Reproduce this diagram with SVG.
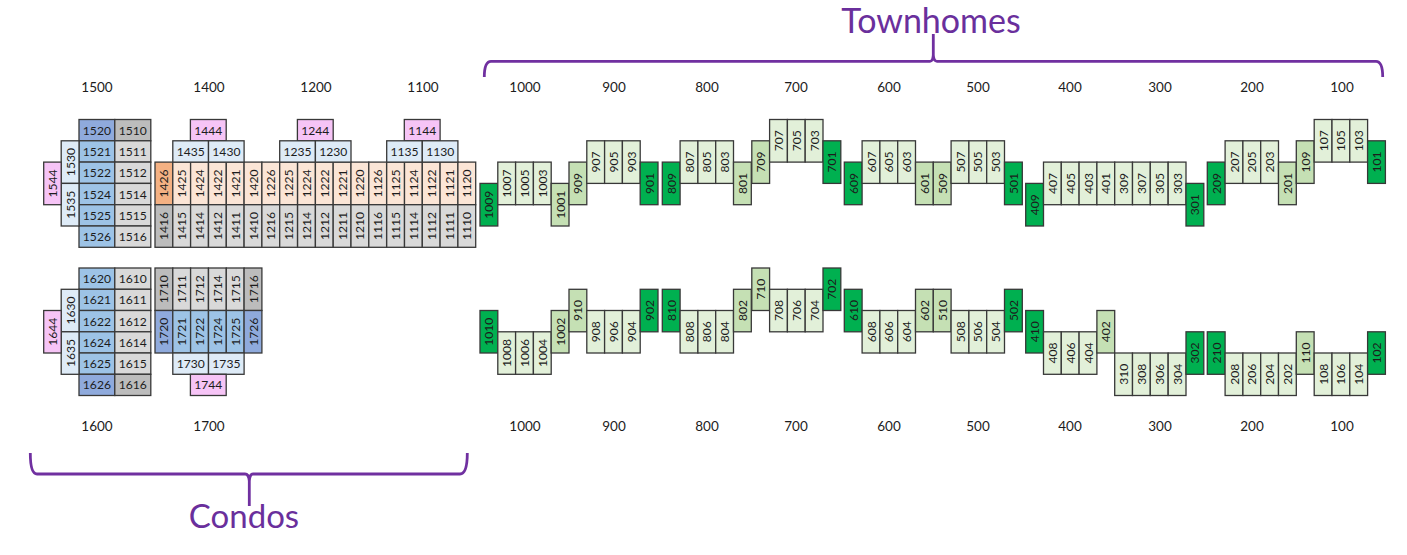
<svg xmlns="http://www.w3.org/2000/svg" width="1407" height="555" viewBox="0 0 1407 555">
<style>
text{font-family:"Lato","Liberation Sans",sans-serif;fill:#1c1c1c;text-anchor:middle;dominant-baseline:central}
.c{font-size:12.1px}
.hd{font-size:13.5px}
.title{font-size:33px;fill:#6a2f9c}
.big{font-size:34px}
rect{stroke:#383838;stroke-width:1.3}
.d{fill:#00b050}.m{fill:#c5e0b4}.l{fill:#e2f0d9}
.b{fill:#9dc3e6}.bd{fill:#8faadc}.bl{fill:#deebf7}
.g{fill:#d9d9d9}.gd{fill:#bcbcbc}
.o{fill:#fbe5d6}.od{fill:#f4b183}.p{fill:#f6c4f6}
.brace{fill:none;stroke:#7030a0;stroke-width:2.8}
</style>
<g id="labels">
<text class="title big" x="931" y="19.5">Townhomes</text>
<text class="title" x="244" y="515">Condos</text>
<text class="hd" x="97" y="87">1500</text><text class="hd" x="209" y="87">1400</text><text class="hd" x="316" y="87">1200</text><text class="hd" x="423" y="87">1100</text><text class="hd" x="525" y="87">1000</text><text class="hd" x="614" y="87">900</text><text class="hd" x="707" y="87">800</text><text class="hd" x="796" y="87">700</text><text class="hd" x="889" y="87">600</text><text class="hd" x="978" y="87">500</text><text class="hd" x="1070" y="87">400</text><text class="hd" x="1160" y="87">300</text><text class="hd" x="1252" y="87">200</text><text class="hd" x="1342" y="87">100</text>
<text class="hd" x="97" y="426">1600</text><text class="hd" x="209" y="426">1700</text><text class="hd" x="525" y="426">1000</text><text class="hd" x="614" y="426">900</text><text class="hd" x="707" y="426">800</text><text class="hd" x="796" y="426">700</text><text class="hd" x="889" y="426">600</text><text class="hd" x="978" y="426">500</text><text class="hd" x="1070" y="426">400</text><text class="hd" x="1160" y="426">300</text><text class="hd" x="1252" y="426">200</text><text class="hd" x="1342" y="426">100</text>
</g>
<g id="connectors">
<path class="brace" d="M484.3 77Q484.3 61.3 491 61.3H930Q932.8 61.3 933.3 55V34V55Q933.8 61.3 937 61.3H1376Q1382.7 61.3 1382.7 77"/>
<path class="brace" d="M30.3 453Q30.3 474 37 474H245Q248.8 474 249.3 481V506V481Q249.8 474 253 474H460Q467.3 474 467.3 453"/>
</g>
<g id="u1520" transform="translate(79 119.5)"><rect class="bd" width="35.8" height="21.3"/><text class="c" x="17.9" y="10.65">1520</text></g>
<g id="u1510" transform="translate(114.8 119.5)"><rect class="gd" width="36" height="21.3"/><text class="c" x="18" y="10.65">1510</text></g>
<g id="u1521" transform="translate(79 140.8)"><rect class="b" width="35.8" height="21.3"/><text class="c" x="17.9" y="10.65">1521</text></g>
<g id="u1511" transform="translate(114.8 140.8)"><rect class="g" width="36" height="21.3"/><text class="c" x="18" y="10.65">1511</text></g>
<g id="u1522" transform="translate(79 162.1)"><rect class="b" width="35.8" height="21.3"/><text class="c" x="17.9" y="10.65">1522</text></g>
<g id="u1512" transform="translate(114.8 162.1)"><rect class="g" width="36" height="21.3"/><text class="c" x="18" y="10.65">1512</text></g>
<g id="u1524" transform="translate(79 183.4)"><rect class="b" width="35.8" height="21.3"/><text class="c" x="17.9" y="10.65">1524</text></g>
<g id="u1514" transform="translate(114.8 183.4)"><rect class="g" width="36" height="21.3"/><text class="c" x="18" y="10.65">1514</text></g>
<g id="u1525" transform="translate(79 204.7)"><rect class="b" width="35.8" height="21.3"/><text class="c" x="17.9" y="10.65">1525</text></g>
<g id="u1515" transform="translate(114.8 204.7)"><rect class="g" width="36" height="21.3"/><text class="c" x="18" y="10.65">1515</text></g>
<g id="u1526" transform="translate(79 226)"><rect class="b" width="35.8" height="21.3"/><text class="c" x="17.9" y="10.65">1526</text></g>
<g id="u1516" transform="translate(114.8 226)"><rect class="g" width="36" height="21.3"/><text class="c" x="18" y="10.65">1516</text></g>
<g id="u1530" transform="translate(61.2 140.8)"><rect class="bl" width="17.8" height="42.6"/><text class="c" transform="translate(8.9 21.3) rotate(-90)">1530</text></g>
<g id="u1535" transform="translate(61.2 183.4)"><rect class="bl" width="17.8" height="42.6"/><text class="c" transform="translate(8.9 21.3) rotate(-90)">1535</text></g>
<g id="u1544" transform="translate(43.7 162.1)"><rect class="p" width="17.5" height="42.6"/><text class="c" transform="translate(8.9 21.3) rotate(-90)">1544</text></g>
<g id="u1426" transform="translate(155 162.1)"><rect class="od" width="17.8" height="42.6"/><text class="c" transform="translate(8.9 21.3) rotate(-90)">1426</text></g>
<g id="u1425" transform="translate(172.8 162.1)"><rect class="o" width="17.8" height="42.6"/><text class="c" transform="translate(8.9 21.3) rotate(-90)">1425</text></g>
<g id="u1424" transform="translate(190.6 162.1)"><rect class="o" width="17.8" height="42.6"/><text class="c" transform="translate(8.9 21.3) rotate(-90)">1424</text></g>
<g id="u1422" transform="translate(208.5 162.1)"><rect class="o" width="17.8" height="42.6"/><text class="c" transform="translate(8.9 21.3) rotate(-90)">1422</text></g>
<g id="u1421" transform="translate(226.3 162.1)"><rect class="o" width="17.8" height="42.6"/><text class="c" transform="translate(8.9 21.3) rotate(-90)">1421</text></g>
<g id="u1420" transform="translate(244.1 162.1)"><rect class="o" width="17.8" height="42.6"/><text class="c" transform="translate(8.9 21.3) rotate(-90)">1420</text></g>
<g id="u1226" transform="translate(261.9 162.1)"><rect class="o" width="17.8" height="42.6"/><text class="c" transform="translate(8.9 21.3) rotate(-90)">1226</text></g>
<g id="u1225" transform="translate(279.7 162.1)"><rect class="o" width="17.8" height="42.6"/><text class="c" transform="translate(8.9 21.3) rotate(-90)">1225</text></g>
<g id="u1224" transform="translate(297.6 162.1)"><rect class="o" width="17.8" height="42.6"/><text class="c" transform="translate(8.9 21.3) rotate(-90)">1224</text></g>
<g id="u1222" transform="translate(315.4 162.1)"><rect class="o" width="17.8" height="42.6"/><text class="c" transform="translate(8.9 21.3) rotate(-90)">1222</text></g>
<g id="u1221" transform="translate(333.2 162.1)"><rect class="o" width="17.8" height="42.6"/><text class="c" transform="translate(8.9 21.3) rotate(-90)">1221</text></g>
<g id="u1220" transform="translate(351 162.1)"><rect class="o" width="17.8" height="42.6"/><text class="c" transform="translate(8.9 21.3) rotate(-90)">1220</text></g>
<g id="u1126" transform="translate(368.8 162.1)"><rect class="o" width="17.8" height="42.6"/><text class="c" transform="translate(8.9 21.3) rotate(-90)">1126</text></g>
<g id="u1125" transform="translate(386.7 162.1)"><rect class="o" width="17.8" height="42.6"/><text class="c" transform="translate(8.9 21.3) rotate(-90)">1125</text></g>
<g id="u1124" transform="translate(404.5 162.1)"><rect class="o" width="17.8" height="42.6"/><text class="c" transform="translate(8.9 21.3) rotate(-90)">1124</text></g>
<g id="u1122" transform="translate(422.3 162.1)"><rect class="o" width="17.8" height="42.6"/><text class="c" transform="translate(8.9 21.3) rotate(-90)">1122</text></g>
<g id="u1121" transform="translate(440.1 162.1)"><rect class="o" width="17.8" height="42.6"/><text class="c" transform="translate(8.9 21.3) rotate(-90)">1121</text></g>
<g id="u1120" transform="translate(457.9 162.1)"><rect class="o" width="17.8" height="42.6"/><text class="c" transform="translate(8.9 21.3) rotate(-90)">1120</text></g>
<g id="u1416" transform="translate(155 204.7)"><rect class="gd" width="17.8" height="42.6"/><text class="c" transform="translate(8.9 21.3) rotate(-90)">1416</text></g>
<g id="u1415" transform="translate(172.8 204.7)"><rect class="g" width="17.8" height="42.6"/><text class="c" transform="translate(8.9 21.3) rotate(-90)">1415</text></g>
<g id="u1414" transform="translate(190.6 204.7)"><rect class="g" width="17.8" height="42.6"/><text class="c" transform="translate(8.9 21.3) rotate(-90)">1414</text></g>
<g id="u1412" transform="translate(208.5 204.7)"><rect class="g" width="17.8" height="42.6"/><text class="c" transform="translate(8.9 21.3) rotate(-90)">1412</text></g>
<g id="u1411" transform="translate(226.3 204.7)"><rect class="g" width="17.8" height="42.6"/><text class="c" transform="translate(8.9 21.3) rotate(-90)">1411</text></g>
<g id="u1410" transform="translate(244.1 204.7)"><rect class="g" width="17.8" height="42.6"/><text class="c" transform="translate(8.9 21.3) rotate(-90)">1410</text></g>
<g id="u1216" transform="translate(261.9 204.7)"><rect class="g" width="17.8" height="42.6"/><text class="c" transform="translate(8.9 21.3) rotate(-90)">1216</text></g>
<g id="u1215" transform="translate(279.7 204.7)"><rect class="g" width="17.8" height="42.6"/><text class="c" transform="translate(8.9 21.3) rotate(-90)">1215</text></g>
<g id="u1214" transform="translate(297.6 204.7)"><rect class="g" width="17.8" height="42.6"/><text class="c" transform="translate(8.9 21.3) rotate(-90)">1214</text></g>
<g id="u1212" transform="translate(315.4 204.7)"><rect class="g" width="17.8" height="42.6"/><text class="c" transform="translate(8.9 21.3) rotate(-90)">1212</text></g>
<g id="u1211" transform="translate(333.2 204.7)"><rect class="g" width="17.8" height="42.6"/><text class="c" transform="translate(8.9 21.3) rotate(-90)">1211</text></g>
<g id="u1210" transform="translate(351 204.7)"><rect class="g" width="17.8" height="42.6"/><text class="c" transform="translate(8.9 21.3) rotate(-90)">1210</text></g>
<g id="u1116" transform="translate(368.8 204.7)"><rect class="g" width="17.8" height="42.6"/><text class="c" transform="translate(8.9 21.3) rotate(-90)">1116</text></g>
<g id="u1115" transform="translate(386.7 204.7)"><rect class="g" width="17.8" height="42.6"/><text class="c" transform="translate(8.9 21.3) rotate(-90)">1115</text></g>
<g id="u1114" transform="translate(404.5 204.7)"><rect class="g" width="17.8" height="42.6"/><text class="c" transform="translate(8.9 21.3) rotate(-90)">1114</text></g>
<g id="u1112" transform="translate(422.3 204.7)"><rect class="g" width="17.8" height="42.6"/><text class="c" transform="translate(8.9 21.3) rotate(-90)">1112</text></g>
<g id="u1111" transform="translate(440.1 204.7)"><rect class="g" width="17.8" height="42.6"/><text class="c" transform="translate(8.9 21.3) rotate(-90)">1111</text></g>
<g id="u1110" transform="translate(457.9 204.7)"><rect class="g" width="17.8" height="42.6"/><text class="c" transform="translate(8.9 21.3) rotate(-90)">1110</text></g>
<g id="u1444" transform="translate(190.4 119.5)"><rect class="p" width="35.8" height="21.3"/><text class="c" x="17.9" y="10.65">1444</text></g>
<g id="u1435" transform="translate(172.8 140.8)"><rect class="bl" width="35.7" height="21.3"/><text class="c" x="17.9" y="10.65">1435</text></g>
<g id="u1430" transform="translate(208.5 140.8)"><rect class="bl" width="35.6" height="21.3"/><text class="c" x="17.9" y="10.65">1430</text></g>
<g id="u1244" transform="translate(297.4 119.5)"><rect class="p" width="35.8" height="21.3"/><text class="c" x="17.9" y="10.65">1244</text></g>
<g id="u1235" transform="translate(279.7 140.8)"><rect class="bl" width="35.7" height="21.3"/><text class="c" x="17.9" y="10.65">1235</text></g>
<g id="u1230" transform="translate(315.4 140.8)"><rect class="bl" width="35.6" height="21.3"/><text class="c" x="17.9" y="10.65">1230</text></g>
<g id="u1144" transform="translate(404.3 119.5)"><rect class="p" width="35.8" height="21.3"/><text class="c" x="17.9" y="10.65">1144</text></g>
<g id="u1135" transform="translate(386.7 140.8)"><rect class="bl" width="35.6" height="21.3"/><text class="c" x="17.9" y="10.65">1135</text></g>
<g id="u1130" transform="translate(422.3 140.8)"><rect class="bl" width="35.6" height="21.3"/><text class="c" x="17.9" y="10.65">1130</text></g>
<g id="u1620" transform="translate(79 268)"><rect class="b" width="35.8" height="21.3"/><text class="c" x="17.9" y="10.65">1620</text></g>
<g id="u1610" transform="translate(114.8 268)"><rect class="g" width="36" height="21.3"/><text class="c" x="18" y="10.65">1610</text></g>
<g id="u1621" transform="translate(79 289.3)"><rect class="b" width="35.8" height="21.2"/><text class="c" x="17.9" y="10.65">1621</text></g>
<g id="u1611" transform="translate(114.8 289.3)"><rect class="g" width="36" height="21.2"/><text class="c" x="18" y="10.65">1611</text></g>
<g id="u1622" transform="translate(79 310.5)"><rect class="b" width="35.8" height="21.3"/><text class="c" x="17.9" y="10.65">1622</text></g>
<g id="u1612" transform="translate(114.8 310.5)"><rect class="g" width="36" height="21.3"/><text class="c" x="18" y="10.65">1612</text></g>
<g id="u1624" transform="translate(79 331.8)"><rect class="b" width="35.8" height="21.2"/><text class="c" x="17.9" y="10.65">1624</text></g>
<g id="u1614" transform="translate(114.8 331.8)"><rect class="g" width="36" height="21.2"/><text class="c" x="18" y="10.65">1614</text></g>
<g id="u1625" transform="translate(79 353)"><rect class="b" width="35.8" height="21.3"/><text class="c" x="17.9" y="10.65">1625</text></g>
<g id="u1615" transform="translate(114.8 353)"><rect class="g" width="36" height="21.3"/><text class="c" x="18" y="10.65">1615</text></g>
<g id="u1626" transform="translate(79 374.3)"><rect class="bd" width="35.8" height="21.2"/><text class="c" x="17.9" y="10.65">1626</text></g>
<g id="u1616" transform="translate(114.8 374.3)"><rect class="gd" width="36" height="21.2"/><text class="c" x="18" y="10.65">1616</text></g>
<g id="u1630" transform="translate(61.2 289.3)"><rect class="bl" width="17.8" height="42.5"/><text class="c" transform="translate(8.9 21.25) rotate(-90)">1630</text></g>
<g id="u1635" transform="translate(61.2 331.8)"><rect class="bl" width="17.8" height="42.5"/><text class="c" transform="translate(8.9 21.25) rotate(-90)">1635</text></g>
<g id="u1644" transform="translate(43.7 310.5)"><rect class="p" width="17.5" height="42.5"/><text class="c" transform="translate(8.9 21.25) rotate(-90)">1644</text></g>
<g id="u1710" transform="translate(155 268)"><rect class="gd" width="17.8" height="42.5"/><text class="c" transform="translate(8.9 21.25) rotate(-90)">1710</text></g>
<g id="u1711" transform="translate(172.8 268)"><rect class="g" width="17.8" height="42.5"/><text class="c" transform="translate(8.9 21.25) rotate(-90)">1711</text></g>
<g id="u1712" transform="translate(190.6 268)"><rect class="g" width="17.8" height="42.5"/><text class="c" transform="translate(8.9 21.25) rotate(-90)">1712</text></g>
<g id="u1714" transform="translate(208.5 268)"><rect class="g" width="17.8" height="42.5"/><text class="c" transform="translate(8.9 21.25) rotate(-90)">1714</text></g>
<g id="u1715" transform="translate(226.3 268)"><rect class="g" width="17.8" height="42.5"/><text class="c" transform="translate(8.9 21.25) rotate(-90)">1715</text></g>
<g id="u1716" transform="translate(244.1 268)"><rect class="gd" width="17.8" height="42.5"/><text class="c" transform="translate(8.9 21.25) rotate(-90)">1716</text></g>
<g id="u1720" transform="translate(155 310.5)"><rect class="bd" width="17.8" height="42.5"/><text class="c" transform="translate(8.9 21.25) rotate(-90)">1720</text></g>
<g id="u1721" transform="translate(172.8 310.5)"><rect class="b" width="17.8" height="42.5"/><text class="c" transform="translate(8.9 21.25) rotate(-90)">1721</text></g>
<g id="u1722" transform="translate(190.6 310.5)"><rect class="b" width="17.8" height="42.5"/><text class="c" transform="translate(8.9 21.25) rotate(-90)">1722</text></g>
<g id="u1724" transform="translate(208.5 310.5)"><rect class="b" width="17.8" height="42.5"/><text class="c" transform="translate(8.9 21.25) rotate(-90)">1724</text></g>
<g id="u1725" transform="translate(226.3 310.5)"><rect class="b" width="17.8" height="42.5"/><text class="c" transform="translate(8.9 21.25) rotate(-90)">1725</text></g>
<g id="u1726" transform="translate(244.1 310.5)"><rect class="bd" width="17.8" height="42.5"/><text class="c" transform="translate(8.9 21.25) rotate(-90)">1726</text></g>
<g id="u1730" transform="translate(172.8 353)"><rect class="bl" width="35.7" height="21.3"/><text class="c" x="17.9" y="10.65">1730</text></g>
<g id="u1735" transform="translate(208.5 353)"><rect class="bl" width="35.6" height="21.3"/><text class="c" x="17.9" y="10.65">1735</text></g>
<g id="u1744" transform="translate(190.4 374.3)"><rect class="p" width="35.8" height="21.2"/><text class="c" x="17.9" y="10.65">1744</text></g>
<g id="u1009" transform="translate(480 183.4)"><rect class="d" width="17.8" height="42.6"/><text class="c" transform="translate(8.9 21.3) rotate(-90)">1009</text></g>
<g id="u1007" transform="translate(497.8 162.1)"><rect class="l" width="17.8" height="42.6"/><text class="c" transform="translate(8.9 21.3) rotate(-90)">1007</text></g>
<g id="u1005" transform="translate(515.6 162.1)"><rect class="l" width="17.8" height="42.6"/><text class="c" transform="translate(8.9 21.3) rotate(-90)">1005</text></g>
<g id="u1003" transform="translate(533.4 162.1)"><rect class="l" width="17.8" height="42.6"/><text class="c" transform="translate(8.9 21.3) rotate(-90)">1003</text></g>
<g id="u1001" transform="translate(551.2 183.4)"><rect class="m" width="17.8" height="42.6"/><text class="c" transform="translate(8.9 21.3) rotate(-90)">1001</text></g>
<g id="u909" transform="translate(569 162.1)"><rect class="m" width="17.8" height="42.6"/><text class="c" transform="translate(8.9 21.3) rotate(-90)">909</text></g>
<g id="u907" transform="translate(586.8 140.8)"><rect class="l" width="17.8" height="42.6"/><text class="c" transform="translate(8.9 21.3) rotate(-90)">907</text></g>
<g id="u905" transform="translate(604.6 140.8)"><rect class="l" width="17.8" height="42.6"/><text class="c" transform="translate(8.9 21.3) rotate(-90)">905</text></g>
<g id="u903" transform="translate(622.4 140.8)"><rect class="l" width="17.8" height="42.6"/><text class="c" transform="translate(8.9 21.3) rotate(-90)">903</text></g>
<g id="u901" transform="translate(640.2 162.1)"><rect class="d" width="17.8" height="42.6"/><text class="c" transform="translate(8.9 21.3) rotate(-90)">901</text></g>
<g id="u809" transform="translate(662.3 162.1)"><rect class="d" width="17.8" height="42.6"/><text class="c" transform="translate(8.9 21.3) rotate(-90)">809</text></g>
<g id="u807" transform="translate(680.1 140.8)"><rect class="l" width="17.8" height="42.6"/><text class="c" transform="translate(8.9 21.3) rotate(-90)">807</text></g>
<g id="u805" transform="translate(697.9 140.8)"><rect class="l" width="17.8" height="42.6"/><text class="c" transform="translate(8.9 21.3) rotate(-90)">805</text></g>
<g id="u803" transform="translate(715.7 140.8)"><rect class="l" width="17.8" height="42.6"/><text class="c" transform="translate(8.9 21.3) rotate(-90)">803</text></g>
<g id="u801" transform="translate(733.5 162.1)"><rect class="m" width="17.8" height="42.6"/><text class="c" transform="translate(8.9 21.3) rotate(-90)">801</text></g>
<g id="u709" transform="translate(751.8 140.8)"><rect class="m" width="17.8" height="42.6"/><text class="c" transform="translate(8.9 21.3) rotate(-90)">709</text></g>
<g id="u707" transform="translate(769.6 119.5)"><rect class="l" width="17.8" height="42.6"/><text class="c" transform="translate(8.9 21.3) rotate(-90)">707</text></g>
<g id="u705" transform="translate(787.4 119.5)"><rect class="l" width="17.8" height="42.6"/><text class="c" transform="translate(8.9 21.3) rotate(-90)">705</text></g>
<g id="u703" transform="translate(805.2 119.5)"><rect class="l" width="17.8" height="42.6"/><text class="c" transform="translate(8.9 21.3) rotate(-90)">703</text></g>
<g id="u701" transform="translate(823 140.8)"><rect class="d" width="17.8" height="42.6"/><text class="c" transform="translate(8.9 21.3) rotate(-90)">701</text></g>
<g id="u609" transform="translate(844.3 162.1)"><rect class="d" width="17.8" height="42.6"/><text class="c" transform="translate(8.9 21.3) rotate(-90)">609</text></g>
<g id="u607" transform="translate(862.1 140.8)"><rect class="l" width="17.8" height="42.6"/><text class="c" transform="translate(8.9 21.3) rotate(-90)">607</text></g>
<g id="u605" transform="translate(879.9 140.8)"><rect class="l" width="17.8" height="42.6"/><text class="c" transform="translate(8.9 21.3) rotate(-90)">605</text></g>
<g id="u603" transform="translate(897.7 140.8)"><rect class="l" width="17.8" height="42.6"/><text class="c" transform="translate(8.9 21.3) rotate(-90)">603</text></g>
<g id="u601" transform="translate(915.5 162.1)"><rect class="m" width="17.8" height="42.6"/><text class="c" transform="translate(8.9 21.3) rotate(-90)">601</text></g>
<g id="u509" transform="translate(933.3 162.1)"><rect class="m" width="17.8" height="42.6"/><text class="c" transform="translate(8.9 21.3) rotate(-90)">509</text></g>
<g id="u507" transform="translate(951.1 140.8)"><rect class="l" width="17.8" height="42.6"/><text class="c" transform="translate(8.9 21.3) rotate(-90)">507</text></g>
<g id="u505" transform="translate(968.9 140.8)"><rect class="l" width="17.8" height="42.6"/><text class="c" transform="translate(8.9 21.3) rotate(-90)">505</text></g>
<g id="u503" transform="translate(986.7 140.8)"><rect class="l" width="17.8" height="42.6"/><text class="c" transform="translate(8.9 21.3) rotate(-90)">503</text></g>
<g id="u501" transform="translate(1004.5 162.1)"><rect class="d" width="17.8" height="42.6"/><text class="c" transform="translate(8.9 21.3) rotate(-90)">501</text></g>
<g id="u409" transform="translate(1025.7 183.4)"><rect class="d" width="17.8" height="42.6"/><text class="c" transform="translate(8.9 21.3) rotate(-90)">409</text></g>
<g id="u407" transform="translate(1043.5 162.1)"><rect class="l" width="17.8" height="42.6"/><text class="c" transform="translate(8.9 21.3) rotate(-90)">407</text></g>
<g id="u405" transform="translate(1061.3 162.1)"><rect class="l" width="17.8" height="42.6"/><text class="c" transform="translate(8.9 21.3) rotate(-90)">405</text></g>
<g id="u403" transform="translate(1079.1 162.1)"><rect class="l" width="17.8" height="42.6"/><text class="c" transform="translate(8.9 21.3) rotate(-90)">403</text></g>
<g id="u401" transform="translate(1096.9 162.1)"><rect class="l" width="17.8" height="42.6"/><text class="c" transform="translate(8.9 21.3) rotate(-90)">401</text></g>
<g id="u309" transform="translate(1114.7 162.1)"><rect class="l" width="17.8" height="42.6"/><text class="c" transform="translate(8.9 21.3) rotate(-90)">309</text></g>
<g id="u307" transform="translate(1132.5 162.1)"><rect class="l" width="17.8" height="42.6"/><text class="c" transform="translate(8.9 21.3) rotate(-90)">307</text></g>
<g id="u305" transform="translate(1150.3 162.1)"><rect class="l" width="17.8" height="42.6"/><text class="c" transform="translate(8.9 21.3) rotate(-90)">305</text></g>
<g id="u303" transform="translate(1168.2 162.1)"><rect class="l" width="17.8" height="42.6"/><text class="c" transform="translate(8.9 21.3) rotate(-90)">303</text></g>
<g id="u301" transform="translate(1186 183.4)"><rect class="d" width="17.8" height="42.6"/><text class="c" transform="translate(8.9 21.3) rotate(-90)">301</text></g>
<g id="u209" transform="translate(1207.3 162.1)"><rect class="d" width="17.8" height="42.6"/><text class="c" transform="translate(8.9 21.3) rotate(-90)">209</text></g>
<g id="u207" transform="translate(1225.1 140.8)"><rect class="l" width="17.8" height="42.6"/><text class="c" transform="translate(8.9 21.3) rotate(-90)">207</text></g>
<g id="u205" transform="translate(1242.9 140.8)"><rect class="l" width="17.8" height="42.6"/><text class="c" transform="translate(8.9 21.3) rotate(-90)">205</text></g>
<g id="u203" transform="translate(1260.7 140.8)"><rect class="l" width="17.8" height="42.6"/><text class="c" transform="translate(8.9 21.3) rotate(-90)">203</text></g>
<g id="u201" transform="translate(1278.5 162.1)"><rect class="m" width="17.8" height="42.6"/><text class="c" transform="translate(8.9 21.3) rotate(-90)">201</text></g>
<g id="u109" transform="translate(1296.3 140.8)"><rect class="m" width="17.8" height="42.6"/><text class="c" transform="translate(8.9 21.3) rotate(-90)">109</text></g>
<g id="u107" transform="translate(1314.2 119.5)"><rect class="l" width="17.8" height="42.6"/><text class="c" transform="translate(8.9 21.3) rotate(-90)">107</text></g>
<g id="u105" transform="translate(1332 119.5)"><rect class="l" width="17.8" height="42.6"/><text class="c" transform="translate(8.9 21.3) rotate(-90)">105</text></g>
<g id="u103" transform="translate(1349.8 119.5)"><rect class="l" width="17.8" height="42.6"/><text class="c" transform="translate(8.9 21.3) rotate(-90)">103</text></g>
<g id="u101" transform="translate(1367.6 140.8)"><rect class="d" width="17.8" height="42.6"/><text class="c" transform="translate(8.9 21.3) rotate(-90)">101</text></g>
<g id="u1010" transform="translate(480 310.5)"><rect class="d" width="17.8" height="42.5"/><text class="c" transform="translate(8.9 21.25) rotate(-90)">1010</text></g>
<g id="u1008" transform="translate(497.8 331.8)"><rect class="l" width="17.8" height="42.5"/><text class="c" transform="translate(8.9 21.25) rotate(-90)">1008</text></g>
<g id="u1006" transform="translate(515.6 331.8)"><rect class="l" width="17.8" height="42.5"/><text class="c" transform="translate(8.9 21.25) rotate(-90)">1006</text></g>
<g id="u1004" transform="translate(533.4 331.8)"><rect class="l" width="17.8" height="42.5"/><text class="c" transform="translate(8.9 21.25) rotate(-90)">1004</text></g>
<g id="u1002" transform="translate(551.2 310.5)"><rect class="m" width="17.8" height="42.5"/><text class="c" transform="translate(8.9 21.25) rotate(-90)">1002</text></g>
<g id="u910" transform="translate(569 289.3)"><rect class="m" width="17.8" height="42.5"/><text class="c" transform="translate(8.9 21.25) rotate(-90)">910</text></g>
<g id="u908" transform="translate(586.8 310.5)"><rect class="l" width="17.8" height="42.5"/><text class="c" transform="translate(8.9 21.25) rotate(-90)">908</text></g>
<g id="u906" transform="translate(604.6 310.5)"><rect class="l" width="17.8" height="42.5"/><text class="c" transform="translate(8.9 21.25) rotate(-90)">906</text></g>
<g id="u904" transform="translate(622.4 310.5)"><rect class="l" width="17.8" height="42.5"/><text class="c" transform="translate(8.9 21.25) rotate(-90)">904</text></g>
<g id="u902" transform="translate(640.2 289.3)"><rect class="d" width="17.8" height="42.5"/><text class="c" transform="translate(8.9 21.25) rotate(-90)">902</text></g>
<g id="u810" transform="translate(662.3 289.3)"><rect class="d" width="17.8" height="42.5"/><text class="c" transform="translate(8.9 21.25) rotate(-90)">810</text></g>
<g id="u808" transform="translate(680.1 310.5)"><rect class="l" width="17.8" height="42.5"/><text class="c" transform="translate(8.9 21.25) rotate(-90)">808</text></g>
<g id="u806" transform="translate(697.9 310.5)"><rect class="l" width="17.8" height="42.5"/><text class="c" transform="translate(8.9 21.25) rotate(-90)">806</text></g>
<g id="u804" transform="translate(715.7 310.5)"><rect class="l" width="17.8" height="42.5"/><text class="c" transform="translate(8.9 21.25) rotate(-90)">804</text></g>
<g id="u802" transform="translate(733.5 289.3)"><rect class="m" width="17.8" height="42.5"/><text class="c" transform="translate(8.9 21.25) rotate(-90)">802</text></g>
<g id="u710" transform="translate(751.8 268)"><rect class="m" width="17.8" height="42.5"/><text class="c" transform="translate(8.9 21.25) rotate(-90)">710</text></g>
<g id="u708" transform="translate(769.6 289.3)"><rect class="l" width="17.8" height="42.5"/><text class="c" transform="translate(8.9 21.25) rotate(-90)">708</text></g>
<g id="u706" transform="translate(787.4 289.3)"><rect class="l" width="17.8" height="42.5"/><text class="c" transform="translate(8.9 21.25) rotate(-90)">706</text></g>
<g id="u704" transform="translate(805.2 289.3)"><rect class="l" width="17.8" height="42.5"/><text class="c" transform="translate(8.9 21.25) rotate(-90)">704</text></g>
<g id="u702" transform="translate(823 268)"><rect class="d" width="17.8" height="42.5"/><text class="c" transform="translate(8.9 21.25) rotate(-90)">702</text></g>
<g id="u610" transform="translate(844.3 289.3)"><rect class="d" width="17.8" height="42.5"/><text class="c" transform="translate(8.9 21.25) rotate(-90)">610</text></g>
<g id="u608" transform="translate(862.1 310.5)"><rect class="l" width="17.8" height="42.5"/><text class="c" transform="translate(8.9 21.25) rotate(-90)">608</text></g>
<g id="u606" transform="translate(879.9 310.5)"><rect class="l" width="17.8" height="42.5"/><text class="c" transform="translate(8.9 21.25) rotate(-90)">606</text></g>
<g id="u604" transform="translate(897.7 310.5)"><rect class="l" width="17.8" height="42.5"/><text class="c" transform="translate(8.9 21.25) rotate(-90)">604</text></g>
<g id="u602" transform="translate(915.5 289.3)"><rect class="m" width="17.8" height="42.5"/><text class="c" transform="translate(8.9 21.25) rotate(-90)">602</text></g>
<g id="u510" transform="translate(933.3 289.3)"><rect class="m" width="17.8" height="42.5"/><text class="c" transform="translate(8.9 21.25) rotate(-90)">510</text></g>
<g id="u508" transform="translate(951.1 310.5)"><rect class="l" width="17.8" height="42.5"/><text class="c" transform="translate(8.9 21.25) rotate(-90)">508</text></g>
<g id="u506" transform="translate(968.9 310.5)"><rect class="l" width="17.8" height="42.5"/><text class="c" transform="translate(8.9 21.25) rotate(-90)">506</text></g>
<g id="u504" transform="translate(986.7 310.5)"><rect class="l" width="17.8" height="42.5"/><text class="c" transform="translate(8.9 21.25) rotate(-90)">504</text></g>
<g id="u502" transform="translate(1004.5 289.3)"><rect class="d" width="17.8" height="42.5"/><text class="c" transform="translate(8.9 21.25) rotate(-90)">502</text></g>
<g id="u410" transform="translate(1025.7 310.5)"><rect class="d" width="17.8" height="42.5"/><text class="c" transform="translate(8.9 21.25) rotate(-90)">410</text></g>
<g id="u408" transform="translate(1043.5 331.8)"><rect class="l" width="17.8" height="42.5"/><text class="c" transform="translate(8.9 21.25) rotate(-90)">408</text></g>
<g id="u406" transform="translate(1061.3 331.8)"><rect class="l" width="17.8" height="42.5"/><text class="c" transform="translate(8.9 21.25) rotate(-90)">406</text></g>
<g id="u404" transform="translate(1079.1 331.8)"><rect class="l" width="17.8" height="42.5"/><text class="c" transform="translate(8.9 21.25) rotate(-90)">404</text></g>
<g id="u402" transform="translate(1096.9 310.5)"><rect class="m" width="17.8" height="42.5"/><text class="c" transform="translate(8.9 21.25) rotate(-90)">402</text></g>
<g id="u310" transform="translate(1114.7 353)"><rect class="l" width="17.8" height="42.5"/><text class="c" transform="translate(8.9 21.25) rotate(-90)">310</text></g>
<g id="u308" transform="translate(1132.5 353)"><rect class="l" width="17.8" height="42.5"/><text class="c" transform="translate(8.9 21.25) rotate(-90)">308</text></g>
<g id="u306" transform="translate(1150.3 353)"><rect class="l" width="17.8" height="42.5"/><text class="c" transform="translate(8.9 21.25) rotate(-90)">306</text></g>
<g id="u304" transform="translate(1168.2 353)"><rect class="l" width="17.8" height="42.5"/><text class="c" transform="translate(8.9 21.25) rotate(-90)">304</text></g>
<g id="u302" transform="translate(1186 331.8)"><rect class="d" width="17.8" height="42.5"/><text class="c" transform="translate(8.9 21.25) rotate(-90)">302</text></g>
<g id="u210" transform="translate(1207.3 331.8)"><rect class="d" width="17.8" height="42.5"/><text class="c" transform="translate(8.9 21.25) rotate(-90)">210</text></g>
<g id="u208" transform="translate(1225.1 353)"><rect class="l" width="17.8" height="42.5"/><text class="c" transform="translate(8.9 21.25) rotate(-90)">208</text></g>
<g id="u206" transform="translate(1242.9 353)"><rect class="l" width="17.8" height="42.5"/><text class="c" transform="translate(8.9 21.25) rotate(-90)">206</text></g>
<g id="u204" transform="translate(1260.7 353)"><rect class="l" width="17.8" height="42.5"/><text class="c" transform="translate(8.9 21.25) rotate(-90)">204</text></g>
<g id="u202" transform="translate(1278.5 353)"><rect class="l" width="17.8" height="42.5"/><text class="c" transform="translate(8.9 21.25) rotate(-90)">202</text></g>
<g id="u110" transform="translate(1296.3 331.8)"><rect class="m" width="17.8" height="42.5"/><text class="c" transform="translate(8.9 21.25) rotate(-90)">110</text></g>
<g id="u108" transform="translate(1314.2 353)"><rect class="l" width="17.8" height="42.5"/><text class="c" transform="translate(8.9 21.25) rotate(-90)">108</text></g>
<g id="u106" transform="translate(1332 353)"><rect class="l" width="17.8" height="42.5"/><text class="c" transform="translate(8.9 21.25) rotate(-90)">106</text></g>
<g id="u104" transform="translate(1349.8 353)"><rect class="l" width="17.8" height="42.5"/><text class="c" transform="translate(8.9 21.25) rotate(-90)">104</text></g>
<g id="u102" transform="translate(1367.6 331.8)"><rect class="d" width="17.8" height="42.5"/><text class="c" transform="translate(8.9 21.25) rotate(-90)">102</text></g>
</svg>
